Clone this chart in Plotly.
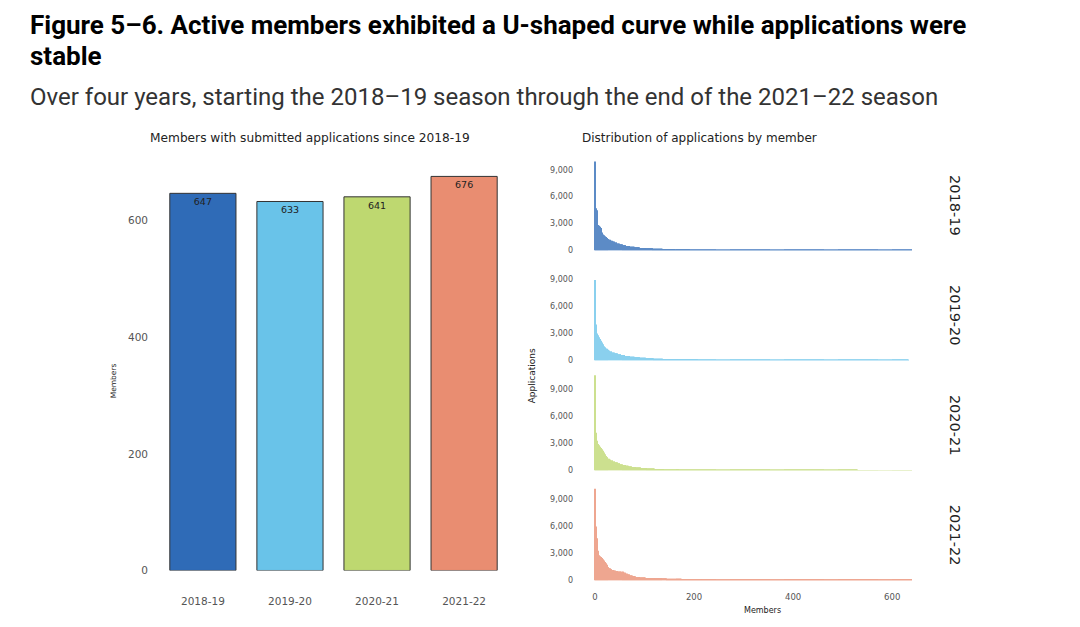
import plotly.graph_objects as go

W, H = 1080, 627

# ---------------- data ----------------
seasons = ["2018-19", "2019-20", "2020-21", "2021-22"]
members = [647, 633, 641, 676]
bar_colors = ["#2F6BB7", "#69C3E9", "#BED870", "#E98D71"]

# applications per member, sorted descending, as (value, number of members) steps
values18 = [9900, 9100, 4700, 4600, 4500, 2850, 2800, 2750, 2700, 2650, 2600, 2500, 2300, 2000,
            1800, 1700, 1600, 1500, 1400, 1300, 1200, 1100, 1000, 900, 800, 700, 600, 500, 420,
            360, 300, 250, 210, 180, 150, 120, 100, 80, 60, 45, 30, 20, 10]
counts18 = [1, 1, 1, 1, 1, 2, 1, 1, 1, 1, 1, 1, 1, 1, 2, 2, 2, 2, 3, 3, 3, 4, 4, 5, 5, 6, 7, 8,
            9, 10, 12, 15, 20, 25, 30, 35, 40, 50, 60, 70, 80, 90, 30]

values19 = [8950, 5200, 4000, 3300, 3000, 2900, 2800, 2700, 2600, 2500, 2400, 2200, 2000, 1800,
            1600, 1450, 1300, 1200, 1100, 1000, 900, 800, 700, 600, 500, 430, 370, 300, 250, 200,
            170, 140, 110, 90, 70, 50, 35, 20, 10]
counts19 = [1, 1, 1, 1, 1, 1, 1, 1, 1, 1, 1, 2, 2, 2, 2, 3, 3, 3, 3, 4, 5, 6, 7, 8, 9, 10, 11,
            12, 15, 20, 30, 40, 50, 60, 70, 80, 80, 70, 15]

values20 = [10600, 5750, 4200, 3700, 3300, 3100, 2950, 2800, 2650, 2500, 2350, 2200, 2000, 1800,
            1600, 1450, 1300, 1200, 1100, 1000, 900, 800, 700, 600, 520, 450, 380, 320, 260, 210,
            170, 140, 110, 85, 65, 45, 30, 15, 5, 1]
counts20 = [1, 1, 1, 1, 1, 1, 1, 2, 2, 2, 2, 2, 2, 2, 3, 3, 3, 3, 4, 4, 5, 5, 5, 6, 6, 7, 8, 10,
            12, 15, 20, 30, 40, 50, 60, 70, 80, 60, 50, 61]

values21 = [10200, 8700, 6000, 5300, 4700, 3700, 3300, 3000, 2800, 2700, 2600, 2500, 2350, 2200,
            2050, 1900, 1750, 1600, 1450, 1350, 1250, 1150, 1100, 1050, 1000, 950, 850, 750, 650,
            550, 450, 380, 320, 270, 230, 190, 160, 130, 100, 75, 55, 40, 25, 12, 5]
counts21 = [1, 1, 1, 1, 1, 1, 1, 1, 1, 2, 2, 2, 2, 2, 2, 2, 2, 2, 2, 3, 3, 3, 4, 5, 6, 6, 4, 4,
            4, 5, 6, 8, 12, 18, 25, 30, 40, 50, 60, 70, 80, 80, 70, 40, 11]

dist_values = [values18, values19, values20, values21]
dist_counts = [counts18, counts19, counts20, counts21]

left_yticks = [0, 200, 400, 600]
right_yticks = [0, 3000, 6000, 9000]
right_xticks = [0, 200, 400, 600]


def expand(values, counts):
    out = []
    for v, c in zip(values, counts):
        out.extend([v] * c)
    return out


def px_x(p):
    return p / W


def px_y(p):
    return 1 - p / H


FONT = "DejaVu Sans"
TICK = dict(family=FONT, size=10.5, color="#555555")

fig = go.Figure()

# ---------------- left chart ----------------
fig.add_trace(go.Bar(
    x=seasons, y=members,
    marker=dict(color=bar_colors, line=dict(color="#333333", width=1)),
    width=0.76,
    text=[str(m) for m in members],
    textposition="inside", insidetextanchor="end",
    textfont=dict(family=FONT, size=9.5, color="#222222"),
    xaxis="x", yaxis="y", showlegend=False, hoverinfo="x+y",
))

layout = dict(
    width=W, height=H,
    margin=dict(l=0, r=0, t=0, b=0),
    paper_bgcolor="white", plot_bgcolor="white",
    showlegend=False,
    bargap=0.25,
    xaxis=dict(domain=[px_x(155), px_x(512)], range=[-0.55, 3.55], showgrid=False,
               zeroline=False, showline=False, ticks="", tickfont=TICK,
               ticklabelstandoff=23, fixedrange=True),
    yaxis=dict(domain=[px_y(576), px_y(164)], range=[0, 700], showgrid=False,
               zeroline=False, showline=False, ticks="", tickvals=left_yticks,
               tickfont=TICK, ticklabelstandoff=6, fixedrange=True),
)

# ---------------- right panels ----------------
for k in range(4):
    n = k + 2
    ys = expand(dist_values[k], dist_counts[k])
    xs = list(range(len(ys)))
    fig.add_trace(go.Bar(
        x=xs, y=ys, marker=dict(color=bar_colors[k], line=dict(width=0)),
        opacity=0.78,
        xaxis=f"x{n}", yaxis=f"y{n}", showlegend=False,
    ))
    zero_px = 253 + 111 * k
    layout[f"xaxis{n}"] = dict(
        domain=[px_x(588), px_x(912)], range=[-14, 640], anchor=f"y{n}",
        showgrid=False, zeroline=False, showline=False, ticks="",
        tickvals=right_xticks, showticklabels=(k == 3), tickfont=dict(family=FONT, size=8.5, color="#555555"),
        ticklabelstandoff=10, fixedrange=True,
    )
    layout[f"yaxis{n}"] = dict(
        domain=[px_y(zero_px), px_y(zero_px - 98)], range=[0, 10800], anchor=f"x{n}",
        showgrid=False, zeroline=False, showline=False, ticks="",
        tickvals=right_yticks, tickformat=",", tickfont=dict(family=FONT, size=8, color="#555555"),
        ticklabelstandoff=14, fixedrange=True,
    )

fig.update_layout(**layout)

ann = []
# main titles
ann.append(dict(x=px_x(28), y=px_y(25), xref="paper", yref="paper", xanchor="left", yanchor="middle",
                text="<b>Figure 5–6. Active members exhibited a U-shaped curve while applications were</b>",
                showarrow=False, font=dict(family="Roboto", size=26, color="#000000")))
ann.append(dict(x=px_x(28), y=px_y(57), xref="paper", yref="paper", xanchor="left", yanchor="middle",
                text="<b>stable</b>",
                showarrow=False, font=dict(family="Roboto", size=26, color="#000000")))
ann.append(dict(x=px_x(28), y=px_y(98), xref="paper", yref="paper", xanchor="left", yanchor="middle",
                text="Over four years, starting the 2018–19 season through the end of the 2021–22 season",
                showarrow=False, font=dict(family="Roboto", size=24, color="#333333")))
# subplot titles
ann.append(dict(x=px_x(310), y=px_y(139), xref="paper", yref="paper", xanchor="center", yanchor="middle",
                text="Members with submitted applications since 2018-19", showarrow=False,
                font=dict(family=FONT, size=12.2, color="#222222")))
ann.append(dict(x=px_x(699), y=px_y(139), xref="paper", yref="paper", xanchor="center", yanchor="middle",
                text="Distribution of applications by member", showarrow=False,
                font=dict(family=FONT, size=12, color="#222222")))
# axis titles
ann.append(dict(x=px_x(113), y=px_y(385), xref="paper", yref="paper", xanchor="center", yanchor="middle",
                text="Members", textangle=-90, showarrow=False,
                font=dict(family=FONT, size=7.5, color="#222222")))
ann.append(dict(x=px_x(532), y=px_y(380), xref="paper", yref="paper", xanchor="center", yanchor="middle",
                text="Applications", textangle=-90, showarrow=False,
                font=dict(family=FONT, size=9, color="#222222")))
ann.append(dict(x=px_x(762), y=px_y(616), xref="paper", yref="paper", xanchor="center", yanchor="middle",
                text="Members", showarrow=False,
                font=dict(family=FONT, size=8, color="#222222")))
# row labels
for k, s in enumerate(seasons):
    ann.append(dict(x=px_x(955), y=px_y(207 + 111 * k), xref="paper", yref="paper",
                    xanchor="center", yanchor="middle", text=s, textangle=90, showarrow=False,
                    font=dict(family=FONT, size=14.5, color="#222222")))

fig.update_layout(annotations=ann)
fig.write_html("out.html", config={"displayModeBar": False},
               post_script="document.body.style.margin='0';")
